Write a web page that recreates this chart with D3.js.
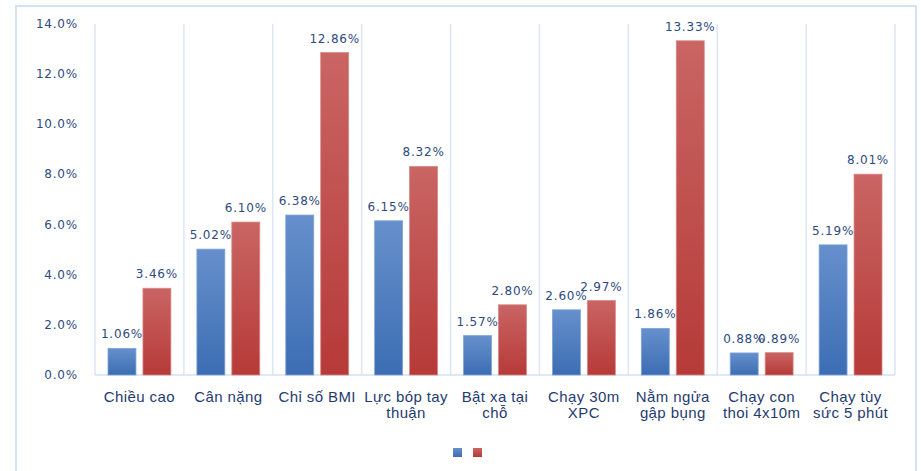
<!DOCTYPE html>
<html lang="vi">
<head>
  <meta charset="UTF-8">
  <title>Chart</title>
  <style>
    body { margin: 0; background: #fff; }
    svg { display: block; }
  </style>
</head>
<body>
  <div id="chart"></div>
  <script src="https://d3js.org/d3.v7.min.js"></script>
  <script>
    const width = 921, height = 471;

    // dữ liệu
    const categories = ["Chiều cao", "Cân nặng", "Chỉ số BMI", "Lực bóp tay|thuận", "Bật xa tại|chỗ",
                        "Chạy 30m|XPC", "Nằm ngửa|gập bụng", "Chạy con|thoi 4x10m", "Chạy tùy|sức 5 phút"];
    const series1 = [1.06, 5.02, 6.38, 6.15, 1.57, 2.60, 1.86, 0.88, 5.19];
    const series2 = [3.46, 6.10, 12.86, 8.32, 2.80, 2.97, 13.33, 0.89, 8.01];
    const yTicks = [0, 2, 4, 6, 8, 10, 12, 14];

    const margin = {left: 95, right: 26, top: 24, bottom: 96};

    const svg = d3.select("#chart").append("svg")
      .attr("width", width).attr("height", height);

    const defs = svg.append("defs");
    const grad = (id, c1, c2) => {
      const g = defs.append("linearGradient").attr("id", id)
        .attr("x1", 0).attr("y1", 0).attr("x2", 0).attr("y2", 1);
      g.append("stop").attr("offset", "0%").attr("stop-color", c1);
      g.append("stop").attr("offset", "100%").attr("stop-color", c2);
    };
    grad("gBlue", "#6690CC", "#3C6DB3");
    grad("gRed", "#C96563", "#B63A38");

    // khung ngoài
    svg.append("rect")
      .attr("x", 16).attr("y", 6)
      .attr("width", 900).attr("height", 480)
      .attr("fill", "none").attr("stroke", "#D5E2F3").attr("stroke-width", 2);

    const x = d3.scaleBand().domain(categories)
      .range([margin.left, width - margin.right]);
    const x1 = d3.scaleBand().domain([0, 1])
      .range([13, x.bandwidth() - 13]).paddingInner(0.2);
    const y = d3.scaleLinear().domain([0, 14])
      .range([height - margin.bottom, margin.top]);

    // đường lưới dọc
    const bounds = d3.range(categories.length + 1);
    svg.append("g").selectAll("line").data(bounds).join("line")
      .attr("x1", i => margin.left + i * x.step())
      .attr("x2", i => margin.left + i * x.step())
      .attr("y1", y(14)).attr("y2", y(0))
      .attr("stroke", "#DCE6F4").attr("stroke-width", 1.5);

    svg.append("line")
      .attr("x1", margin.left).attr("x2", width - margin.right)
      .attr("y1", y(0)).attr("y2", y(0))
      .attr("stroke", "#D5E2F3").attr("stroke-width", 1.5);

    // trục y
    svg.append("g").selectAll("text").data(yTicks).join("text")
      .attr("x", 78).attr("y", d => y(d) + 4)
      .attr("text-anchor", "end")
      .attr("font-family", "DejaVu Sans").attr("font-size", 12)
      .attr("letter-spacing", 0.8)
      .attr("fill", "#2D4A7E")
      .text(d => d.toFixed(1) + "%");

    const groups = svg.append("g").selectAll("g").data(categories).join("g")
      .attr("transform", d => `translate(${x(d)},0)`);

    const fills = ["url(#gBlue)", "url(#gRed)"];
    const strokes = ["#7FA3D6", "#D78886"];
    groups.selectAll("rect")
      .data((d, i) => [series1[i], series2[i]])
      .join("rect")
      .attr("x", (d, j) => x1(j))
      .attr("width", x1.bandwidth())
      .attr("y", d => y(d))
      .attr("height", d => y(0) - y(d))
      .attr("fill", (d, j) => fills[j])
      .attr("stroke", (d, j) => strokes[j]).attr("stroke-width", 0.8);

    groups.selectAll("text.val")
      .data((d, i) => [series1[i], series2[i]])
      .join("text").attr("class", "val")
      .attr("x", (d, j) => x1(j) + x1.bandwidth() / 2)
      .attr("y", d => y(d) - 10)
      .attr("text-anchor", "middle")
      .attr("font-family", "DejaVu Sans").attr("font-size", 12)
      .attr("letter-spacing", 0.8)
      .attr("fill", "#2D4A7E")
      .text(d => d.toFixed(2) + "%");

    // nhãn danh mục
    groups.append("text")
      .attr("text-anchor", "middle")
      .attr("font-family", "Liberation Sans").attr("font-size", 15)
      .attr("letter-spacing", 0.4)
      .attr("fill", "#1F3B6E")
      .selectAll("tspan").data(d => d.split("|")).join("tspan")
      .attr("x", x.bandwidth() / 2)
      .attr("y", (d, k) => 402 + k * 16)
      .text(d => d);

    // chú giải
    svg.append("g").selectAll("rect").data(fills).join("rect")
      .attr("x", (d, j) => 453 + j * 20).attr("y", 448)
      .attr("width", 9).attr("height", 9)
      .attr("fill", d => d);
  </script>
</body>
</html>
